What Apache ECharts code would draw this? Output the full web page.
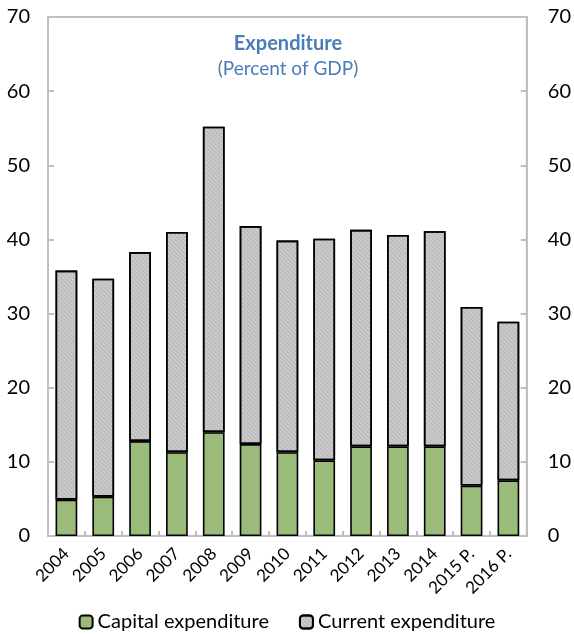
<!DOCTYPE html>
<html>
<head>
<meta charset="utf-8">
<script src="https://cdn.jsdelivr.net/npm/echarts@6/dist/echarts.min.js"></script>
<style>
  html, body { margin: 0; padding: 0; background: #fff; }
  #chart { width: 574px; height: 634px; }
</style>
</head>
<body>
<div id="chart"></div>
<script>
// Expenditure in percent of GDP, split into capital and current spending
const years = ['2004', '2005', '2006', '2007', '2008', '2009', '2010', '2011', '2012', '2013', '2014', '2015 P.', '2016 P.'];
const capitalExpenditure = [4.9, 5.3, 12.8, 11.3, 14.0, 12.4, 11.3, 10.2, 12.1, 12.1, 12.1, 6.8, 7.5];
const currentExpenditure = [30.9, 29.4, 25.5, 29.7, 41.2, 29.4, 28.55, 29.9, 29.2, 28.5, 29.0, 24.1, 21.4];

const FONT = 'Lato, "Open Sans", sans-serif';
const AXIS_GREY = '#bfbfbf';

const yAxisBase = {
  type: 'value',
  min: 0,
  max: 70,
  interval: 10,
  axisLine: { show: true, lineStyle: { color: AXIS_GREY, width: 2 } },
  axisTick: { show: true, inside: true, length: 6, lineStyle: { color: AXIS_GREY, width: 2 } },
  splitLine: { show: false },
  axisLabel: { color: '#000', fontSize: 20, fontFamily: FONT }
};

const chart = echarts.init(document.getElementById('chart'));
chart.setOption({
  animation: false,
  backgroundColor: '#fff',
  title: {
    text: 'Expenditure',
    subtext: '(Percent of GDP)',
    left: 283,
    top: 29,
    textAlign: 'center',
    itemGap: 5,
    textStyle: { color: '#4a7db5', fontSize: 20, fontWeight: 'bold', fontFamily: FONT },
    subtextStyle: { color: '#4a7db5', fontSize: 19, fontFamily: FONT }
  },
  legend: {
    bottom: -3,
    left: 'center',
    itemWidth: 13,
    itemHeight: 13,
    itemGap: 30,
    textStyle: { color: '#000', fontSize: 20, fontFamily: FONT },
    data: ['Capital expenditure', 'Current expenditure']
  },
  grid: {
    left: 48,
    right: 44,
    top: 17,
    bottom: 98,
    show: true,
    borderColor: AXIS_GREY,
    borderWidth: 2
  },
  xAxis: {
    type: 'category',
    data: years,
    axisLine: { show: true, lineStyle: { color: AXIS_GREY, width: 2 } },
    axisTick: { show: true, inside: true, length: 5, lineStyle: { color: AXIS_GREY, width: 2 } },
    axisLabel: {
      color: '#000',
      fontSize: 17,
      fontFamily: FONT,
      rotate: 45,
      interval: 0,
      margin: 15
    }
  },
  yAxis: [
    Object.assign({}, yAxisBase, { position: 'left', axisLabel: Object.assign({}, yAxisBase.axisLabel, { margin: 18 }) }),
    Object.assign({}, yAxisBase, { position: 'right', axisLabel: Object.assign({}, yAxisBase.axisLabel, { margin: 21 }) })
  ],
  series: [
    {
      name: 'Capital expenditure',
      type: 'bar',
      stack: 'total',
      barCategoryGap: '41%',
      data: capitalExpenditure,
      itemStyle: { color: '#9bbb7b', borderColor: '#000', borderWidth: 1.6 }
    },
    {
      name: 'Current expenditure',
      type: 'bar',
      stack: 'total',
      barCategoryGap: '41%',
      data: currentExpenditure,
      itemStyle: {
        color: '#cbcbcb',
        borderColor: '#000',
        borderWidth: 1.6,
        decal: {
          symbol: 'rect',
          color: 'rgba(140,140,140,0.35)',
          dashArrayX: [1, 0],
          dashArrayY: [1, 2],
          rotation: Math.PI / 4
        }
      }
    }
  ]
});
</script>
</body>
</html>
